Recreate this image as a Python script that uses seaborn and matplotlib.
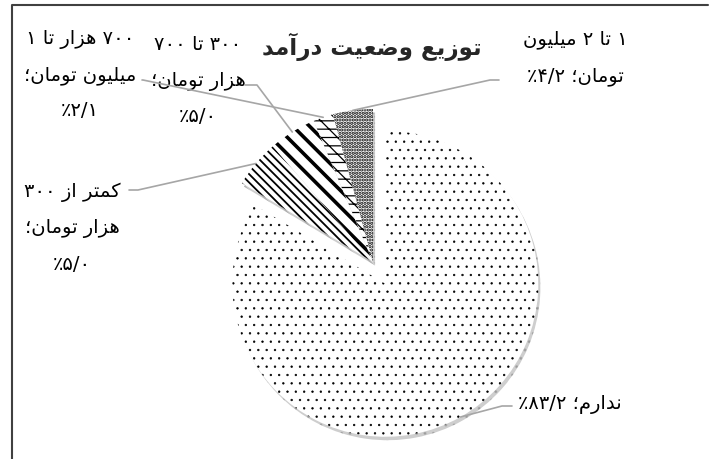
import re
import numpy as np
import matplotlib
matplotlib.use("Agg")
import matplotlib.pyplot as plt
import seaborn as sns

# ==========================================
# Data
# ==========================================

categories = [
    "ندارم",
    "کمتر از ۳۰۰\nهزار تومان",
    "۳۰۰ تا ۷۰۰\nهزار تومان",
    "۷۰۰ هزار تا ۱\nمیلیون تومان",
    "۱ تا ۲ میلیون\nتومان",
]
percents = [83.2, 5.0, 5.0, 2.1, 4.2]
title = "توزیع وضعیت درآمد"

# ==========================================
# Minimal Persian shaping + RTL ordering
# (matplotlib does no text shaping itself)
# ==========================================

FORMS = {
    "ا": ("\uFE8D", "\uFE8E", None, None),
    "آ": ("\uFE81", "\uFE82", None, None),
    "ت": ("\uFE95", "\uFE96", "\uFE97", "\uFE98"),
    "د": ("\uFEA9", "\uFEAA", None, None),
    "ر": ("\uFEAD", "\uFEAE", None, None),
    "ز": ("\uFEAF", "\uFEB0", None, None),
    "ض": ("\uFEBD", "\uFEBE", "\uFEBF", "\uFEC0"),
    "ع": ("\uFEC9", "\uFECA", "\uFECB", "\uFECC"),
    "ل": ("\uFEDD", "\uFEDE", "\uFEDF", "\uFEE0"),
    "م": ("\uFEE1", "\uFEE2", "\uFEE3", "\uFEE4"),
    "ن": ("\uFEE5", "\uFEE6", "\uFEE7", "\uFEE8"),
    "ه": ("\uFEE9", "\uFEEA", "\uFEEB", "\uFEEC"),
    "و": ("\uFEED", "\uFEEE", None, None),
    "ی": ("\uFEEF", "\uFEF0", "\uFEF3", "\uFEF4"),
    "ک": ("\uFED9", "\uFEDA", "\uFEDB", "\uFEDC"),
}
NUM = r"[۰-۹]+(?:/[۰-۹]+)*"


def shape_line(line):
    out = []
    for i, ch in enumerate(line):
        if ch not in FORMS:
            out.append(ch)
            continue
        prev = line[i - 1] if i > 0 else ""
        nxt = line[i + 1] if i + 1 < len(line) else ""
        jp = prev in FORMS and FORMS[prev][2] is not None
        jn = FORMS[ch][2] is not None and nxt in FORMS
        iso, fin, ini, med = FORMS[ch]
        if jp and jn:
            out.append(med)
        elif jp:
            out.append(fin)
        elif jn:
            out.append(ini)
        else:
            out.append(iso)
    parts = re.split("(" + NUM + ")", "".join(out))
    parts = [p if re.fullmatch(NUM, p) else p[::-1] for p in parts]
    return "".join(parts[::-1])


def fa(text):
    return "\n".join(shape_line(l) for l in text.split("\n"))


def fa_num(v):
    s = f"{v:.1f}".replace(".", "/")
    return s.translate(str.maketrans("0123456789", "۰۱۲۳۴۵۶۷۸۹"))


# ==========================================
# Layout (pixel positions, y from top)
# ==========================================

W, H = 711, 459
pie_center = (373, H - 262)
pie_radius = 153
explode = [25, 0, 0, 0, 0]
hatches = ["..", "\\\\\\\\", "\\\\", "--\\\\", "....."]
hatch_lw = [0.45, 1.3, 2.6, 0.9, 1.6]
pct_sep = [" ", "\n", "\n", "\n", " "]
label_pos = [(570, 405), (72, 228), (198, 81), (80, 75), (575, 58)]
stub = [((512, 406), (502, 406)), ((129, 190), (138, 190)),
        ((245, 85), (257, 85)), ((142, 80), (143, 80)),
        ((499, 80), (490, 80))]

sns.set_theme(style="white")
plt.rcParams["font.family"] = ["DejaVu Sans"]
plt.rcParams["hatch.linewidth"] = 1.0

fig = plt.figure(figsize=(W / 100, H / 100), dpi=100)
ax = fig.add_axes([0, 0, 1, 1])

wedges, _ = ax.pie(
    percents,
    center=pie_center,
    radius=pie_radius,
    startangle=90,
    counterclock=False,
    explode=explode,
    hatch=hatches,
    shadow={"ox": 1.5, "oy": -2.5, "shade": 0.55, "alpha": 0.35},
    wedgeprops=dict(facecolor="white", edgecolor="black", linewidth=0),
)
for w, lw in zip(wedges, hatch_lw):
    if hasattr(w, "set_hatch_linewidth"):
        w.set_hatch_linewidth(lw)

# labels + leader lines
for w, cat, p, sep, (lx, ly), (s0, s1) in zip(
        wedges, categories, percents, pct_sep, label_pos, stub):
    text = cat + "؛" + sep + fa_num(p) + "٪"
    ax.text(lx, H - ly, fa(text), ha="center", va="center",
            multialignment="center", fontsize=14, linespacing=2.1,
            color="black")
    th = np.deg2rad((w.theta1 + w.theta2) / 2)
    ex = w.center[0] + w.r * np.cos(th)
    ey = w.center[1] + w.r * np.sin(th)
    ax.plot([s0[0], s1[0], ex], [H - s0[1], H - s1[1], ey],
            color="#a6a6a6", lw=1.2, zorder=5)

ax.text(372, H - 47, fa(title), ha="center", va="center",
        fontsize=16.5, fontweight="bold")

# chart area border (only left and top visible in the crop)
ax.plot([12, 12, 708], [0, H - 5, H - 5], color="#404040", lw=1.5,
        clip_on=False)

ax.set_xlim(0, W)
ax.set_ylim(0, H)
ax.set_aspect("equal")
ax.axis("off")

fig.savefig("out.png", dpi=100)
